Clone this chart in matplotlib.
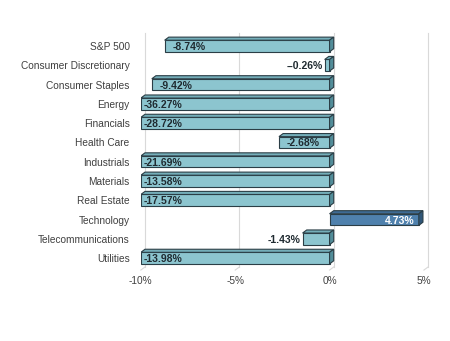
import numpy as np
import matplotlib
matplotlib.use("Agg")
from matplotlib import pyplot as plt
from matplotlib.patches import Polygon


categories = ["S&P 500", "Consumer Discretionary", "Consumer Staples", "Energy",
              "Financials", "Health Care", "Industrials", "Materials",
              "Real Estate", "Technology", "Telecommunications", "Utilities"]
values = [-8.74, -0.26, -9.42, -36.27, -28.72, -2.68, -21.69, -13.58,
          -17.57, 4.73, -1.43, -13.98]
labels = ["-8.74%", "--0.26%", "-9.42%", "-36.27%", "-28.72%", "-2.68%",
          "-21.69%", "-13.58%", "-17.57%", "4.73%", "-1.43%", "-13.98%"]
xticks = [-10, -5, 0, 5]
xticklabels = ["-10%", "-5%", "0%", "5%"]

XMIN, XMAX = -10, 5
DX, DY = 0.22, 0.16   # depth of the fake 3d
H = 0.6
EDGE = "#2B3E46"
LBL = dict(fontsize=7.5, fontweight="bold", family="Liberation Sans", zorder=4)


def box(ax, lo, hi, y, front, top, side):
    y0, y1 = y - H / 2, y + H / 2
    ax.add_patch(Polygon([(lo, y0), (hi, y0), (hi, y1), (lo, y1)], closed=True,
                         fc=front, ec=EDGE, lw=0.8, zorder=3))
    ax.add_patch(Polygon([(lo, y0), (hi, y0), (hi + DX, y0 - DY), (lo + DX, y0 - DY)],
                         closed=True, fc=top, ec=EDGE, lw=0.8, zorder=3))
    ax.add_patch(Polygon([(hi, y0), (hi + DX, y0 - DY), (hi + DX, y1 - DY), (hi, y1)],
                         closed=True, fc=side, ec=EDGE, lw=0.8, zorder=3))


fig = plt.figure(figsize=(4.5, 3.41), dpi=100)
ax = fig.add_axes([0.313, 0.208, 0.629, 0.695])
ax.set_xlim(XMIN, XMAX)
ax.set_ylim(11.62, -0.67)

n = len(categories)
# back wall gridlines + floor lines
for t in xticks:
    ax.plot([t + DX, t + DX], [n - 0.38 - DY, -0.67], color="#D9D9D9", lw=0.8,
            zorder=1, clip_on=False)
    ax.plot([t, t + DX], [11.62, n - 0.38 - DY], color="#D9D9D9", lw=0.8,
            zorder=1, clip_on=False)

for i, (v, lab) in enumerate(zip(values, labels)):
    lo = max(min(v, 0), XMIN)
    hi = min(max(v, 0), XMAX)
    if v > 0:
        box(ax, lo, hi, i, "#4F81AD", "#3E6B94", "#2F5678")
        ax.text(hi - 0.25, i + 0.05, lab, ha="right", va="center", color="white", **LBL)
    else:
        box(ax, lo, hi, i, "#8CC5CF", "#74AEB9", "#528D99")
        if hi - lo < 2.0:
            ax.text(lo - 0.1, i + 0.05, lab, ha="right", va="center", color="#1F2A30", **LBL)
        else:
            pad = 0.4 if v > XMIN else 0.15
            ax.text(lo + pad, i + 0.05, lab, ha="left", va="center", color="#1F2A30", **LBL)

ax.set_yticks(range(n))
ax.set_yticklabels(categories, fontsize=7.3, color="#404040", family="Liberation Sans")
ax.set_xticks(xticks)
ax.set_xticklabels(xticklabels, fontsize=7.3, color="#404040", family="Liberation Sans")
ax.tick_params(length=0, axis="y", pad=8)
ax.tick_params(length=0, axis="x", pad=4)
for s in ax.spines.values():
    s.set_visible(False)

fig.savefig("out.png", dpi=100)
